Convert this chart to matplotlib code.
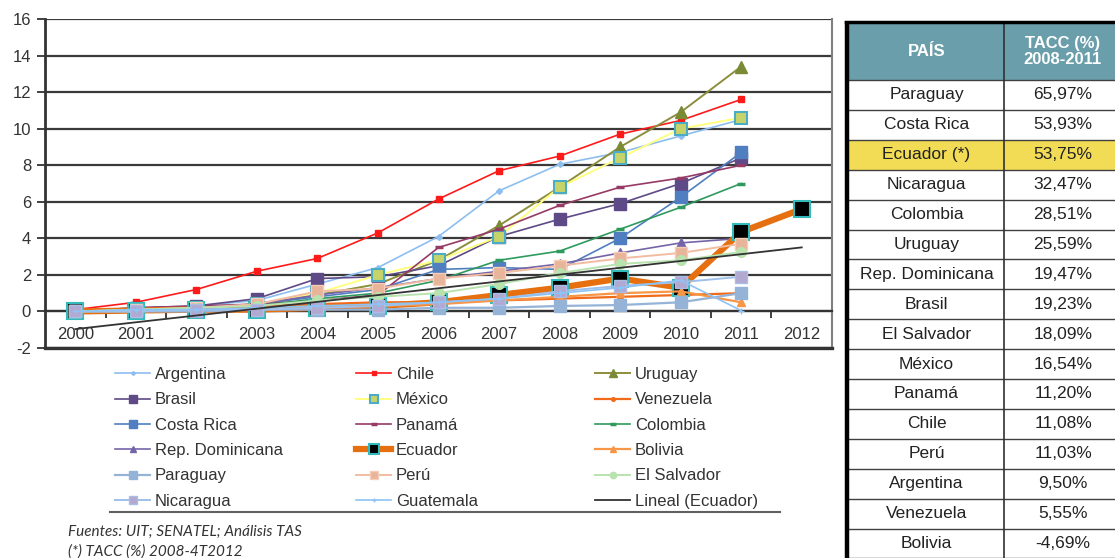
import numpy as np
import matplotlib.pyplot as plt
from matplotlib.lines import Line2D
from matplotlib.patches import Rectangle

plt.rcParams['font.family'] = ['Liberation Sans', 'DejaVu Sans']
plt.rcParams['axes.unicode_minus'] = False

# ── data ──────────────────────────────────────────────────────────────────────
years = [str(y) for y in range(2000, 2013)]

argentina   = [0.0, 0.1, 0.3, 0.6, 1.5, 2.4, 4.1, 6.6, 8.05, 8.7, 9.6, 10.5]
chile       = [0.1, 0.5, 1.2, 2.2, 2.9, 4.3, 6.15, 7.7, 8.5, 9.7, 10.45, 11.6]
uruguay     = [0.0, 0.1, 0.2, 0.4, 0.9, 1.5, 2.8, 4.7, 6.8, 9.0, 10.9, 13.4]
brasil      = [0.0, 0.2, 0.3, 0.7, 1.8, 1.9, 2.5, 4.1, 5.05, 5.9, 7.0, 8.4]
mexico      = [0.0, 0.1, 0.2, 0.4, 1.0, 2.0, 2.8, 4.1, 6.8, 8.4, 10.0, 10.6]
venezuela   = [0.0, 0.1, 0.2, 0.3, 0.4, 0.5, 0.5, 0.6, 0.7, 0.8, 0.9, 1.0]
costa_rica  = [0.0, 0.1, 0.2, 0.4, 0.8, 1.2, 2.3, 2.4, 2.3, 4.0, 6.25, 8.7]
panama      = [0.0, 0.2, 0.3, 0.4, 0.6, 0.9, 3.5, 4.5, 5.8, 6.8, 7.3, 8.0]
colombia    = [0.0, 0.1, 0.2, 0.3, 0.7, 1.0, 1.7, 2.8, 3.3, 4.5, 5.7, 7.0]
rep_dom     = [0.0, 0.1, 0.2, 0.4, 0.9, 1.3, 1.8, 2.2, 2.6, 3.2, 3.75, 4.0]
ecuador     = [0.0, 0.05, 0.1, 0.1, 0.2, 0.3, 0.5, 0.9, 1.3, 1.8, 1.3, 4.35, 5.6]
bolivia     = [0.0, 0.0, 0.1, 0.1, 0.2, 0.3, 0.4, 0.6, 0.8, 1.0, 1.1, 0.5]
paraguay    = [0.0, 0.0, 0.0, 0.1, 0.1, 0.1, 0.2, 0.2, 0.3, 0.35, 0.5, 1.0]
peru        = [0.0, 0.1, 0.2, 0.4, 1.1, 1.25, 1.8, 2.1, 2.5, 2.9, 3.2, 3.7]
el_salvador = [0.0, 0.1, 0.2, 0.3, 0.6, 0.8, 1.0, 1.5, 2.1, 2.6, 2.8, 3.25]
nicaragua   = [0.0, 0.0, 0.1, 0.1, 0.2, 0.3, 0.5, 0.7, 1.1, 1.4, 1.6, 1.9]
guatemala   = [0.0, 0.1, 0.1, 0.2, 0.3, 0.4, 0.5, 0.7, 1.0, 1.3, 1.7, 0.05]

tab_pais = ["Paraguay", "Costa Rica", "Ecuador (*)", "Nicaragua", "Colombia",
            "Uruguay", "Rep. Dominicana", "Brasil", "El Salvador", "México",
            "Panamá", "Chile", "Perú", "Argentina", "Venezuela", "Bolivia"]
tab_tacc = [65.97, 53.93, 53.75, 32.47, 28.51, 25.59, 19.47, 19.23, 18.09,
            16.54, 11.20, 11.08, 11.03, 9.50, 5.55, -4.69]

# ── styles (legend order, row by row) ─────────────────────────────────────────
SERIES = [
    ("Argentina",       argentina,   dict(color="#8DBEF0", lw=1.2, marker="D", ms=3)),
    ("Chile",           chile,       dict(color="#FF1A1A", lw=1.2, marker="s", ms=4)),
    ("Uruguay",         uruguay,     dict(color="#8C8E3C", lw=1.4, marker="^", ms=9,
                                          mfc="#7A8A35", mec="#7A8A35")),
    ("Brasil",          brasil,      dict(color="#5E4A86", lw=1.2, marker="s", ms=9)),
    ("México",          mexico,      dict(color="#FFFF80", lw=1.4, marker="s", ms=9,
                                          mfc="#C6D36A", mec="#4BACC6", mew=1.5)),
    ("Venezuela",       venezuela,   dict(color="#F06A1A", lw=1.6, marker="o", ms=4)),
    ("Costa Rica",      costa_rica,  dict(color="#4F7FC0", lw=1.2, marker="s", ms=9)),
    ("Panamá",          panama,      dict(color="#963A66", lw=1.2, marker="_", ms=6, mew=2.5)),
    ("Colombia",        colombia,    dict(color="#2E9A5E", lw=1.2, marker="_", ms=6, mew=2.5)),
    ("Rep. Dominicana", rep_dom,     dict(color="#7565A8", lw=1.2, marker="^", ms=7)),
    ("Ecuador",         ecuador,     dict(color="#E6700F", lw=4.5, marker="s", ms=11,
                                          mfc="black", mec="#33BBBB", mew=1.5)),
    ("Bolivia",         bolivia,     dict(color="#F79646", lw=1.6, marker="^", ms=6)),
    ("Paraguay",        paraguay,    dict(color="#95B3D7", lw=1.6, marker="s", ms=9)),
    ("Perú",            peru,        dict(color="#F2BCA0", lw=1.4, marker="s", ms=9,
                                          mfc="#E8B49A", mec="#F6CDB8")),
    ("El Salvador",     el_salvador, dict(color="#B9E3AE", lw=1.4, marker="o", ms=7)),
    ("Nicaragua",       nicaragua,   dict(color="#9FC0EA", lw=1.4, marker="s", ms=9,
                                          mfc="#B3A8D0", mec="#A9BDE6")),
    ("Guatemala",       guatemala,   dict(color="#8EC3F5", lw=1.2, marker="+", ms=5)),
]

W, H = 1115, 558
fig = plt.figure(figsize=(W / 100, H / 100), dpi=100)
ax = fig.add_axes([45 / W, 1 - 348 / H, (832 - 45) / W, (348 - 19) / H])

x = np.arange(len(years))
handles = []
for name, vals, st in SERIES:
    ln, = ax.plot(x[:len(vals)], vals, label=name, zorder=3, **st)
    handles.append(ln)

# linear trend of Ecuador over the full span
coef = np.polyfit(x, ecuador, 1)
trend, = ax.plot(x, np.polyval(coef, x), color="#333333", lw=1.3,
                 label="Lineal (Ecuador)", zorder=3)
handles.append(trend)

# ── axes ──────────────────────────────────────────────────────────────────────
ax.set_xlim(-0.5, len(years) - 0.5)
ax.set_ylim(-2, 16)
ax.set_yticks(range(-2, 17, 2))
ax.yaxis.grid(True, color="#3A3A3A", lw=1.6)
ax.set_axisbelow(True)

ax.spines["top"].set_visible(False)
ax.spines["right"].set_color("#808080")
ax.spines["right"].set_linewidth(1.5)
ax.spines["left"].set_color("#333333")
ax.spines["left"].set_linewidth(2)
ax.spines["bottom"].set_position(("data", 0))
ax.spines["bottom"].set_color("#333333")
ax.spines["bottom"].set_linewidth(1.6)
ax.axhline(-2, color="#333333", lw=2.4, clip_on=False, zorder=4)

ax.set_xticks(x)
ax.set_xticklabels(years)
ax.set_xticks(x[:-1] + 0.5, minor=True)
ax.tick_params(axis="x", which="major", length=0, pad=11, labelsize=12,
               labelcolor="#333333")
ax.tick_params(axis="x", which="minor", length=5, width=1.3, color="#333333",
               direction="out")
ax.tick_params(axis="y", length=6, width=1.3, color="#333333", labelsize=12,
               labelcolor="#333333", pad=4)

# ── legend: three columns, filled row by row ──────────────────────────────────
col_x = [115, 356, 595]
for c in range(3):
    fig.legend(handles=handles[c::3], loc="upper left",
               bbox_to_anchor=(col_x[c] / W, 1 - 367 / H), frameon=False,
               borderpad=0, borderaxespad=0, handlelength=2.1,
               handletextpad=0.3, labelspacing=0.62, fontsize=12,
               markerscale=0.65, labelcolor="#333333")
fig.add_artist(Line2D([110 / W, 780 / W], [1 - 512 / H] * 2,
                      color="#606060", lw=1.5))

fig.text(68 / W, 1 - 532 / H, "Fuentes: UIT; SENATEL; Análisis TAS",
         family=["Lato", "DejaVu Sans"], style="italic", fontsize=11,
         color="#333333", va="center")
fig.text(68 / W, 1 - 552 / H, "(*) TACC (%) 2008-4T2012",
         family=["Lato", "DejaVu Sans"], style="italic", fontsize=11,
         color="#333333", va="center")

# ── ranking table ─────────────────────────────────────────────────────────────
tx = fig.add_axes([0, 0, 1, 1], facecolor="none")
tx.set_xlim(0, W)
tx.set_ylim(H, 0)
tx.axis("off")

left, mid, right = 849, 1004, 1122
top, head_h = 23, 57
row_h = 29.9
body_top = top + head_h
bottom = body_top + row_h * len(tab_pais)

tx.add_patch(Rectangle((left, top), right - left, head_h, color="#6A9EAA", lw=0))
hi = tab_pais.index("Ecuador (*)")
tx.add_patch(Rectangle((left, body_top + hi * row_h), right - left, row_h,
                       color="#F2DC55", lw=0))
for i in range(len(tab_pais) + 1):
    y = body_top + i * row_h
    tx.plot([left, right], [y, y], color="#404040", lw=1.0)
tx.plot([mid, mid], [top, bottom], color="#303030", lw=1.2)
tx.plot([847, 847], [21, bottom], color="black", lw=3.2, solid_capstyle="butt")
tx.plot([846, right], [21.5, 21.5], color="black", lw=2.5)

tx.text((left + mid) / 2, top + head_h / 2, "PAÍS", color="white",
        fontweight="bold", fontsize=12, ha="center", va="center")
tx.text((mid + right) / 2, top + head_h / 2, "TACC (%)\n2008-2011", color="white",
        fontweight="bold", fontsize=12, ha="center", va="center", linespacing=1.1)
for i, (p, v) in enumerate(zip(tab_pais, tab_tacc)):
    yc = body_top + (i + 0.5) * row_h
    tx.text((left + mid) / 2, yc, p, fontsize=12.5, ha="center", va="center",
            color="#222222")
    tx.text((mid + right) / 2, yc, f"{v:.2f}".replace(".", ",") + "%",
            fontsize=12.5, ha="center", va="center", color="#222222")

fig.savefig("out.png", dpi=100)
